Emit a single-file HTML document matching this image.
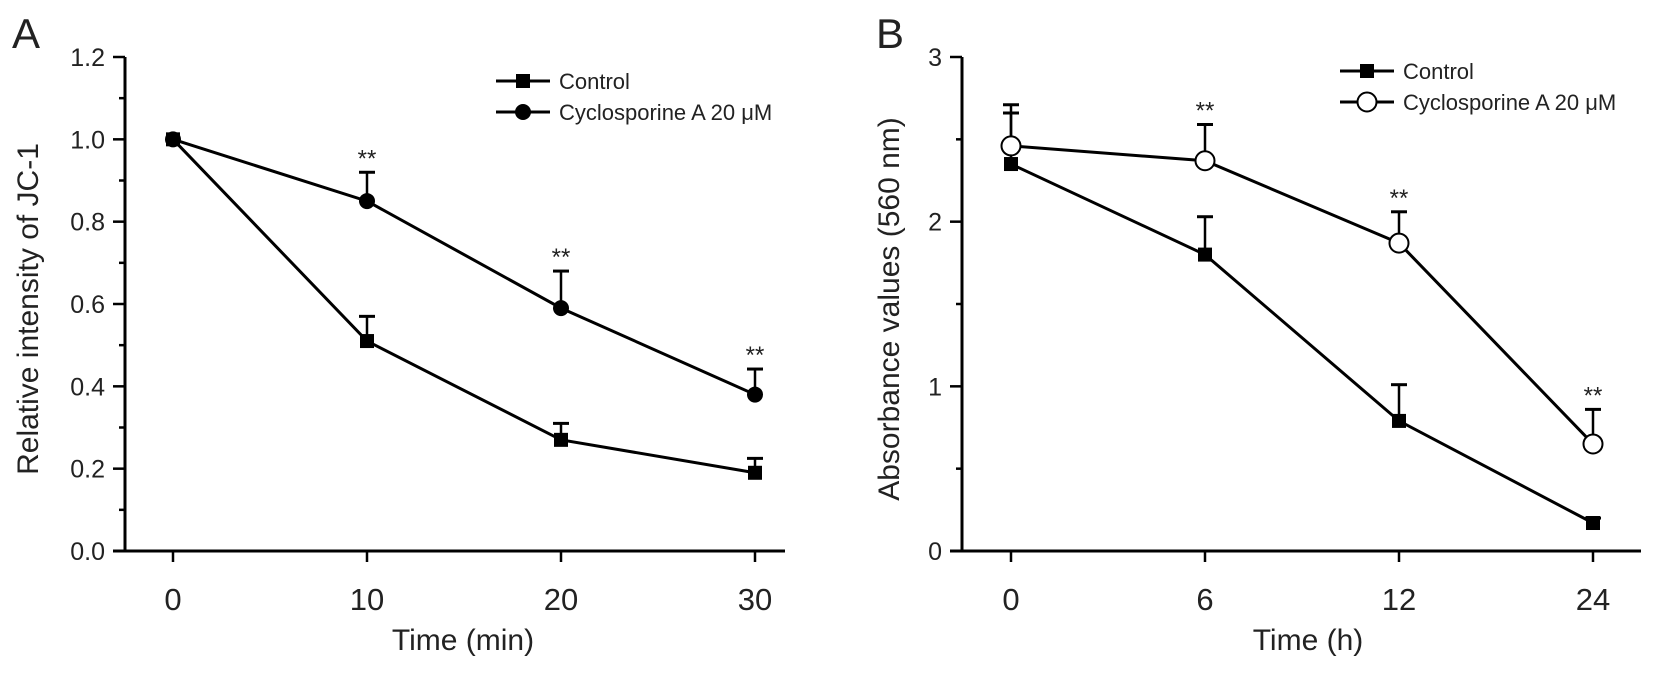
<!DOCTYPE html>
<html><head><meta charset="utf-8"><style>
html,body{margin:0;padding:0;background:#fff;}
svg{display:block;font-family:"Liberation Sans",Arial,sans-serif;}
</style></head><body>
<svg id="chart" width="1654" height="676" viewBox="0 0 1654 676" xmlns="http://www.w3.org/2000/svg"></svg>
<script>
// Panel A data
const aTimes = [0, 10, 20, 30];
const aTickLabels = ["0", "10", "20", "30"];
const aYTicks = [0, 0.2, 0.4, 0.6, 0.8, 1.0, 1.2];
const aYTickLabels = ["0.0", "0.2", "0.4", "0.6", "0.8", "1.0", "1.2"];
const aControl = [1.0, 0.51, 0.27, 0.19];
const aControlErr = [0, 0.06, 0.04, 0.035];
const aCyclo = [1.0, 0.85, 0.59, 0.38];
const aCycloErr = [0, 0.07, 0.09, 0.062];
const aSig = [false, true, true, true];
// Panel B data
const bCategories = ["0", "6", "12", "24"];
const bYTicks = [0, 1, 2, 3];
const bYTickLabels = ["0", "1", "2", "3"];
const bControl = [2.35, 1.80, 0.79, 0.17];
const bControlErr = [0.31, 0.23, 0.22, 0.03];
const bCyclo = [2.46, 2.37, 1.87, 0.65];
const bCycloErr = [0.25, 0.22, 0.19, 0.21];
const bSig = [false, true, true, true];

const NS = "http://www.w3.org/2000/svg";
const svg = document.getElementById("chart");
function mk(tag, attrs, parent, text) {
  const e = document.createElementNS(NS, tag);
  for (const k in attrs) e.setAttribute(k, attrs[k]);
  if (text !== undefined) e.textContent = text;
  (parent || svg).appendChild(e);
  return e;
}

function panel(opts) {
  const g = mk("g", {});
  
  
  const {ax, y0, y1, ymax, xOf, xEnd} = opts;
  const yOf = v => y0 - (v / ymax) * (y0 - y1);
  const yAxis = mk("line", {x1: ax, y1: y1, x2: ax, y2: y0 + 1.5, stroke: "#000", "stroke-width": 3}, g);
  
  
  const xAxis = mk("line", {x1: ax - 12, y1: y0, x2: xEnd, y2: y0, stroke: "#000", "stroke-width": 3}, g);
  
  
  opts.yTicks.forEach((v, i) => {
    const y = yOf(v);
    mk("line", {x1: ax - 12, y1: y, x2: ax, y2: y, stroke: "#000", "stroke-width": 2.5}, g);
    const t = mk("text", {x: ax - 20, y: y + 9, "text-anchor": "end", "font-size": 25, fill: "#222"}, g, opts.yTickLabels[i]);
    
    
    if (i < opts.yTicks.length - 1) {
      const ym = yOf((v + opts.yTicks[i + 1]) / 2);
      mk("line", {x1: ax - 6, y1: ym, x2: ax, y2: ym, stroke: "#000", "stroke-width": 2.5}, g);
    }
  });
  opts.xLabels.forEach((lab, i) => {
    const x = xOf(i);
    mk("line", {x1: x, y1: y0, x2: x, y2: y0 + 11, stroke: "#000", "stroke-width": 2.5}, g);
    const t = mk("text", {x: x, y: y0 + 59, "text-anchor": "middle", "font-size": 31, fill: "#222"}, g, lab);
    
    
  });
  const xt = mk("text", {x: opts.xTitleX, y: 650, "text-anchor": "middle", "font-size": 30, fill: "#222"}, g, opts.xTitle);
  
  
  const yt = mk("text", {x: 0, y: 0, "text-anchor": "middle", "font-size": 30, fill: "#222", transform: `translate(${opts.yTitleX},${(y0 + y1) / 2 + 5}) rotate(-90)`}, g, opts.yTitle);
  
  
  const pl = mk("text", {x: opts.letterX, y: 48, "font-size": 42, fill: "#222"}, g, opts.letter);
  
  

  function series(vals, errs, kind, name) {
    const sg = mk("g", {}, g);
    
    
    vals.forEach((v, i) => {
      if (!errs[i]) return;
      const x = xOf(i), yt2 = yOf(v + errs[i]);
      mk("line", {x1: x, y1: yOf(v), x2: x, y2: yt2, stroke: "#000", "stroke-width": 2.5}, sg);
      mk("line", {x1: x - 8, y1: yt2, x2: x + 8, y2: yt2, stroke: "#000", "stroke-width": 3}, sg);
    });
    const pts = vals.map((v, i) => xOf(i) + "," + yOf(v)).join(" ");
    const line = mk("polyline", {points: pts, fill: "none", stroke: "#000", "stroke-width": 3}, sg);
    
    
    vals.forEach((v, i) => {
      const x = xOf(i), y = yOf(v);
      let m;
      if (kind === "square") m = mk("rect", {x: x - 7, y: y - 7, width: 14, height: 14, fill: "#000"}, sg);
      else if (kind === "circle") m = mk("circle", {cx: x, cy: y, r: 8, fill: "#000"}, sg);
      else m = mk("circle", {cx: x, cy: y, r: 9.5, fill: "#fff", stroke: "#000", "stroke-width": 2}, sg);
      
      
    });
  }
  series(opts.control, opts.controlErr, "square", "control-series");
  series(opts.cyclo, opts.cycloErr, opts.cycloKind, "cyclosporine-series");
  opts.sig.forEach((s, i) => {
    if (!s) return;
    const t = mk("text", {x: xOf(i), y: yOf(opts.cyclo[i] + opts.cycloErr[i]) - 6, "text-anchor": "middle", "font-size": 24, fill: "#222"}, g, "**");
    
    
  });
  const lg = mk("g", {}, g);
  
  
  const L = opts.legend;
  [["Control", "square", L.y1], ["Cyclosporine A 20 \u03bcM", opts.cycloKind, L.y2]].forEach(([lab, kind, y]) => {
    const e = mk("g", {}, lg);
    
    
    mk("line", {x1: L.x, y1: y, x2: L.x + 54, y2: y, stroke: "#000", "stroke-width": 3}, e);
    const cx = L.x + 27;
    if (kind === "square") mk("rect", {x: cx - 7, y: y - 7, width: 14, height: 14, fill: "#000"}, e);
    else if (kind === "circle") mk("circle", {cx: cx, cy: y, r: 8, fill: "#000"}, e);
    else mk("circle", {cx: cx, cy: y, r: 9.5, fill: "#fff", stroke: "#000", "stroke-width": 2}, e);
    mk("text", {x: L.x + 63, y: y + 8, "font-size": 22, fill: "#222"}, e, lab);
  });
}

const aX0 = 173, aPerMin = 19.4;
panel({
  name: "panel-a", letter: "A", letterX: 12, ax: 125, y0: 551, y1: 57, ymax: 1.2, xEnd: 785,
  xOf: i => aX0 + aTimes[i] * aPerMin,
  xLabels: aTickLabels, yTicks: aYTicks, yTickLabels: aYTickLabels,
  control: aControl, controlErr: aControlErr, cyclo: aCyclo, cycloErr: aCycloErr, cycloKind: "circle", sig: aSig,
  xTitle: "Time (min)", xTitleX: 463, yTitle: "Relative intensity of JC-1", yTitleX: 38,
  legend: {x: 496, y1: 81, y2: 112}
});
const bX0 = 1011, bStep = 194;
panel({
  name: "panel-b", letter: "B", letterX: 876, ax: 962, y0: 551, y1: 57, ymax: 3, xEnd: 1641,
  xOf: i => bX0 + i * bStep,
  xLabels: bCategories, yTicks: bYTicks, yTickLabels: bYTickLabels,
  control: bControl, controlErr: bControlErr, cyclo: bCyclo, cycloErr: bCycloErr, cycloKind: "open", sig: bSig,
  xTitle: "Time (h)", xTitleX: 1308, yTitle: "Absorbance values (560 nm)", yTitleX: 899,
  legend: {x: 1340, y1: 71, y2: 102}
});
</script>
</body></html>
